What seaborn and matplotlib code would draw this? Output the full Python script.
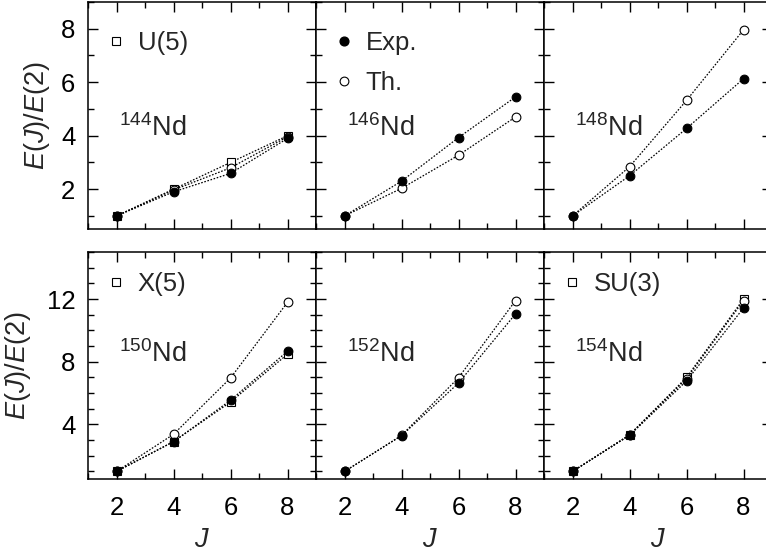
import matplotlib
matplotlib.use("Agg")
import matplotlib.pyplot as plt
from matplotlib.lines import Line2D
from matplotlib.ticker import MultipleLocator
import seaborn as sns

sns.set_theme(style="ticks")
plt.rcParams["font.family"] = ["Liberation Sans", "DejaVu Sans"]
plt.rcParams["mathtext.fontset"] = "custom"
plt.rcParams["mathtext.rm"] = "Liberation Sans"
plt.rcParams["mathtext.it"] = "Liberation Sans:italic"

# --- dados ---
J = [2, 4, 6, 8]
isotopos = ["144", "146", "148", "150", "152", "154"]

exp_144 = [1.0, 1.90, 2.59, 3.90]
th_144 = [1.0, 1.97, 2.80, 3.96]
u5 = [1.0, 2.0, 3.0, 4.0]

exp_146 = [1.0, 2.30, 3.93, 5.45]
th_146 = [1.0, 2.03, 3.27, 4.70]

exp_148 = [1.0, 2.50, 4.27, 6.13]
th_148 = [1.0, 2.84, 5.32, 7.96]

exp_150 = [1.0, 2.90, 5.54, 8.67]
th_150 = [1.0, 3.37, 6.96, 11.79]
x5 = [1.0, 2.904, 5.430, 8.483]

exp_152 = [1.0, 3.28, 6.64, 11.05]
th_152 = [1.0, 3.30, 6.98, 11.90]

exp_154 = [1.0, 3.30, 6.77, 11.43]
th_154 = [1.0, 3.33, 6.92, 11.90]
su3 = [1.0, 3.33, 7.0, 12.0]

exp_lista = [exp_144, exp_146, exp_148, exp_150, exp_152, exp_154]
th_lista = [th_144, th_146, th_148, th_150, th_152, th_154]
limites = {"144": u5, "150": x5, "154": su3}

# --- figura ---
fig = plt.figure(figsize=(7.66, 5.57), dpi=100)
W, H = 766, 557
largura = 228 / W
altura = 227.3 / H
esquerda = 88 / W
base_linhas = [1 - 229.3 / H, 1 - 479.3 / H]

estilo_linha = dict(color="black", linestyle=(0, (1.3, 1.3)), linewidth=0.9)
fs = 18.5
ms = 6.3

for i, iso in enumerate(isotopos):
    linha, col = divmod(i, 3)
    ax = fig.add_axes([esquerda + col * largura, base_linhas[linha], largura, altura])

    if iso in limites:
        sns.lineplot(x=J, y=limites[iso], ax=ax, marker="s", markersize=ms - 0.5,
                     markerfacecolor="white", markeredgecolor="black",
                     markeredgewidth=0.8, **estilo_linha)
    sns.lineplot(x=J, y=th_lista[i], ax=ax, marker="o", markersize=ms,
                 markerfacecolor="white", markeredgecolor="black",
                 markeredgewidth=0.8, **estilo_linha)
    sns.lineplot(x=J, y=exp_lista[i], ax=ax, marker="o", markersize=ms,
                 markerfacecolor="black", markeredgecolor="black", **estilo_linha)

    ax.set_xlim(1, 9)
    ax.xaxis.set_major_locator(MultipleLocator(2))
    ax.xaxis.set_minor_locator(MultipleLocator(1))
    if linha == 0:
        ax.set_ylim(0.5, 9)
        ax.yaxis.set_major_locator(MultipleLocator(2))
        ax.yaxis.set_minor_locator(MultipleLocator(1))
        ax.set_xticklabels([])
        y_nd = 0.41
        x_lab = -0.158
    else:
        ax.set_ylim(0.5, 15)
        ax.yaxis.set_major_locator(MultipleLocator(4))
        ax.yaxis.set_minor_locator(MultipleLocator(1))
        ax.set_xlabel("$J$", fontsize=fs + 1, labelpad=5)
        y_nd = 0.517
        x_lab = -0.241
    if col == 0:
        ax.set_ylabel("$E(J)/E(2)$", fontsize=fs + 1)
        ax.yaxis.set_label_coords(x_lab, 0.5)
    else:
        ax.set_yticklabels([])

    ax.tick_params(which="both", direction="in", top=True, right=True,
                   labelsize=fs, width=1.0, colors="black")
    ax.tick_params(which="major", length=7)
    ax.tick_params(which="minor", length=4.5)
    ax.tick_params(axis="x", which="major", pad=12)
    ax.tick_params(axis="y", which="major", pad=9)
    for s in ax.spines.values():
        s.set_linewidth(1.1)
        s.set_color("black")

    ax.text(0.135, y_nd, r"$^{%s}$Nd" % iso, transform=ax.transAxes,
            fontsize=fs + 1, ha="left", va="baseline")

    # legendas
    quadrado = Line2D([], [], marker="s", ls="none", markersize=6,
                      markerfacecolor="white", markeredgecolor="black", markeredgewidth=0.8)
    if iso == "144":
        ax.legend([quadrado], ["U(5)"], loc="upper left", bbox_to_anchor=(-0.025, 0.975),
                  frameon=False, fontsize=fs, handlelength=0.8, handletextpad=0.45)
    if iso == "146":
        h = [Line2D([], [], marker="o", ls="none", markersize=ms, color="black"),
             Line2D([], [], marker="o", ls="none", markersize=ms,
                    markerfacecolor="white", markeredgecolor="black", markeredgewidth=0.8)]
        ax.legend(h, ["Exp.", "Th."], loc="upper left", bbox_to_anchor=(-0.025, 0.975),
                  frameon=False, fontsize=fs, handlelength=0.8, handletextpad=0.45,
                  labelspacing=0.62)
    if iso in ("150", "154"):
        nome = "X(5)" if iso == "150" else "SU(3)"
        ax.legend([quadrado], [nome], loc="upper left", bbox_to_anchor=(-0.025, 1.015),
                  frameon=False, fontsize=fs, handlelength=0.8, handletextpad=0.45)

plt.savefig("out.png", dpi=100)
plt.close()
